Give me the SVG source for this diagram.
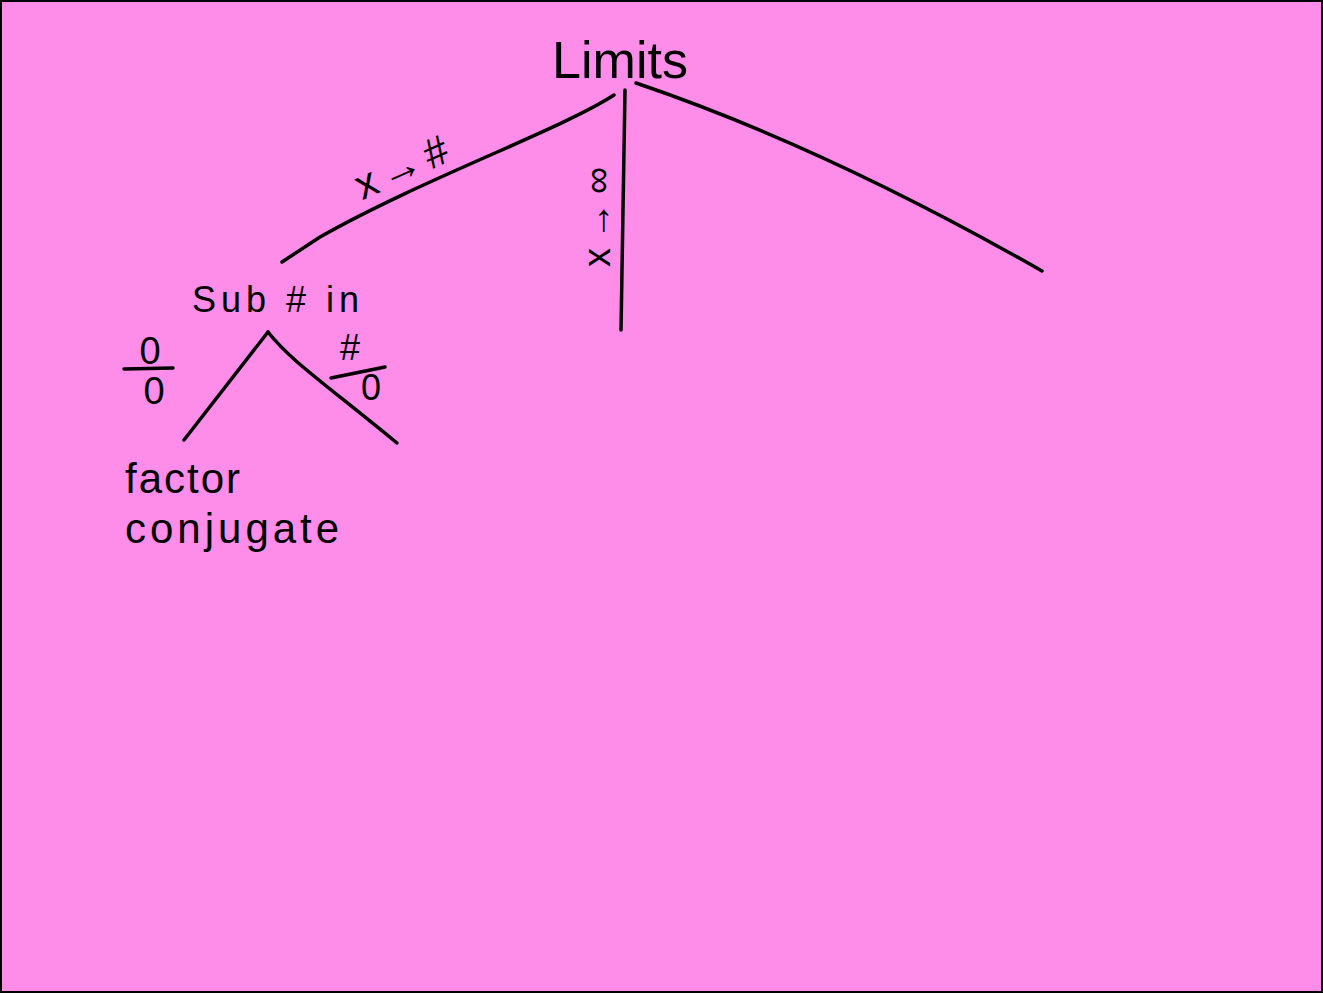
<svg xmlns="http://www.w3.org/2000/svg" width="1323" height="993" viewBox="0 0 1323 993">
<style>
.ln{fill:none;stroke:#000;stroke-width:3.5;stroke-linecap:round;stroke-linejoin:round}
.t{font-family:"Liberation Sans",Arial,sans-serif;fill:#000}
</style>
<rect x="1" y="1" width="1321" height="991" fill="#FE8CE9" stroke="#000" stroke-width="2"/>
<g id="connectors">
<path class="ln" d="M614,95 C560,130 420,180 320,237 L282,262"/>
<path class="ln" d="M625,90 L621,330"/>
<path class="ln" d="M636,83 C760,125 900,190 1042,271"/>
<path class="ln" d="M268,332 L184,440"/>
<path class="ln" d="M268,332 C290,360 320,380 397,443"/>
</g>
<g id="edge-label-x-to-hash">
<text class="t" x="405" y="180" font-size="42" letter-spacing="6" text-anchor="middle" transform="rotate(-24 405 168)">x→#</text>
</g>
<g id="edge-label-x-to-inf">
<text class="t" x="597" y="226" font-size="38" letter-spacing="8" text-anchor="middle" transform="rotate(-90 597 213)">x→∞</text>
</g>
<g id="node-limits">
<text class="t" x="620" y="78" font-size="52" text-anchor="middle">Limits</text>
</g>
<g id="node-sub">
<text class="t" x="192" y="312" font-size="36" letter-spacing="5">Sub # in</text>
</g>
<g id="label-zero-zero">
<text class="t" x="150" y="364" font-size="38" text-anchor="middle">0</text>
<path class="ln" d="M124,369 L173,368"/>
<text class="t" x="154" y="404" font-size="38" text-anchor="middle">0</text>
</g>
<g id="label-hash-zero">
<text class="t" x="350" y="360" font-size="36" text-anchor="middle">#</text>
<path class="ln" d="M331,378 L385,367"/>
<text class="t" x="371" y="400" font-size="36" text-anchor="middle">0</text>
</g>
<g id="node-factor">
<text class="t" x="125" y="493" font-size="42" letter-spacing="2">factor</text>
<text class="t" x="125" y="543" font-size="42" letter-spacing="4">conjugate</text>
</g>
</svg>
